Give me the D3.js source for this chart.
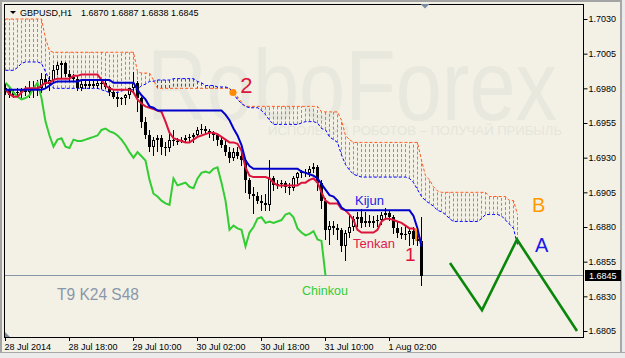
<!DOCTYPE html>
<html><head><meta charset="utf-8">
<script src="https://cdn.jsdelivr.net/npm/d3@7"></script>
<style>html,body{margin:0;padding:0;background:#f3f1e6;} svg{display:block;}</style>
</head><body><svg id="chart" width="625" height="358"></svg>
<script>
// ---------------- data ----------------
const symbolTitle = "GBPUSD,H1";
const titleQuote = "1.6870 1.6887 1.6838 1.6845";
const timeLabels = ["28 Jul 2014","28 Jul 18:00","29 Jul 10:00","30 Jul 02:00","30 Jul 18:00","31 Jul 10:00","1 Aug 02:00"];
const timeTickBars = [0,16,32,48,64,80,96];
const priceTicks = [1.6805,1.6830,1.6855,1.6880,1.6905,1.6930,1.6955,1.6980,1.7005,1.7030];
const currentPrice = 1.6845;
const indicatorLabel = "T9 K24 S48";

const open = [1.6980,1.6979,1.6975,1.6977,1.6977,1.6979,1.6977,1.6980,1.6979,1.6980,
1.6987,1.6983,1.6986,1.6993,1.6997,1.6998,1.6990,1.6988,1.6987,1.6980,
1.6983,1.6982,1.6983,1.6982,1.6984,1.6984,1.6981,1.6977,1.6974,1.6972,
1.6973,1.6975,1.6980,1.6984,1.6973,1.6956,1.6946,1.6938,1.6943,1.6944,
1.6938,1.6937,1.6943,1.6942,1.6942,1.6943,1.6944,1.6945,1.6946,1.6950,
1.6951,1.6949,1.6948,1.6946,1.6943,1.6939,1.6934,1.6930,1.6934,1.6931,
1.6928,1.6914,1.6904,1.6902,1.6899,1.6897,1.6896,1.6915,1.6910,1.6911,
1.6912,1.6909,1.6908,1.6915,1.6919,1.6920,1.6919,1.6922,1.6923,1.6912,
1.6899,1.6878,1.6881,1.6879,1.6878,1.6866,1.6876,1.6880,1.6886,1.6887,
1.6883,1.6884,1.6883,1.6884,1.6885,1.6889,1.6890,1.6887,1.6879,1.6876,
1.6874,1.6875,1.6877,1.6871,1.6870];
const high = [1.6984,1.6980,1.6979,1.6980,1.6980,1.6982,1.6985,1.6985,1.6986,1.6991,
1.6990,1.6989,1.6997,1.6999,1.7000,1.6999,1.6993,1.6990,1.6989,1.6986,
1.6985,1.6985,1.6985,1.6986,1.6986,1.6985,1.6982,1.6979,1.6977,1.6974,
1.6976,1.6980,1.6992,1.6985,1.6974,1.6959,1.6950,1.6945,1.6946,1.6946,
1.6941,1.6948,1.6950,1.6944,1.6945,1.6946,1.6947,1.6948,1.6952,1.6954,
1.6953,1.6951,1.6949,1.6947,1.6945,1.6943,1.6938,1.6937,1.6938,1.6935,
1.6930,1.6915,1.6909,1.6905,1.6903,1.6904,1.6928,1.6917,1.6914,1.6914,
1.6913,1.6912,1.6917,1.6920,1.6921,1.6922,1.6924,1.6926,1.6925,1.6914,
1.6901,1.6884,1.6884,1.6882,1.6879,1.6878,1.6889,1.6888,1.6891,1.6893,
1.6891,1.6889,1.6888,1.6889,1.6891,1.6894,1.6892,1.6889,1.6884,1.6880,
1.6881,1.6879,1.6880,1.6878,1.6887];
const low = [1.6976,1.6974,1.6974,1.6975,1.6974,1.6975,1.6974,1.6974,1.6975,1.6977,
1.6980,1.6979,1.6985,1.6990,1.6988,1.6989,1.6986,1.6985,1.6979,1.6979,
1.6980,1.6980,1.6981,1.6980,1.6980,1.6980,1.6975,1.6973,1.6967,1.6969,
1.6969,1.6973,1.6977,1.6964,1.6952,1.6944,1.6935,1.6932,1.6935,1.6933,
1.6932,1.6935,1.6939,1.6940,1.6941,1.6941,1.6941,1.6941,1.6945,1.6948,
1.6948,1.6945,1.6943,1.6939,1.6938,1.6932,1.6927,1.6928,1.6930,1.6925,
1.6905,1.6901,1.6890,1.6897,1.6892,1.6892,1.6892,1.6907,1.6908,1.6909,
1.6905,1.6904,1.6907,1.6912,1.6916,1.6917,1.6917,1.6920,1.6907,1.6894,
1.6871,1.6868,1.6875,1.6871,1.6863,1.6856,1.6873,1.6878,1.6881,1.6880,
1.6881,1.6881,1.6880,1.6881,1.6882,1.6886,1.6885,1.6876,1.6873,1.6872,
1.6871,1.6867,1.6868,1.6867,1.6838];
const close = [1.6979,1.6975,1.6977,1.6977,1.6979,1.6977,1.6980,1.6979,1.6980,1.6987,
1.6983,1.6986,1.6993,1.6997,1.6998,1.6990,1.6988,1.6987,1.6980,1.6983,
1.6982,1.6983,1.6982,1.6984,1.6984,1.6981,1.6977,1.6974,1.6972,1.6973,
1.6975,1.6980,1.6984,1.6973,1.6956,1.6946,1.6938,1.6943,1.6944,1.6938,
1.6937,1.6943,1.6942,1.6942,1.6943,1.6944,1.6945,1.6946,1.6950,1.6951,
1.6949,1.6948,1.6946,1.6943,1.6939,1.6934,1.6930,1.6934,1.6931,1.6928,
1.6914,1.6904,1.6902,1.6899,1.6897,1.6896,1.6915,1.6910,1.6911,1.6912,
1.6909,1.6908,1.6915,1.6919,1.6920,1.6919,1.6922,1.6923,1.6912,1.6899,
1.6878,1.6881,1.6879,1.6878,1.6866,1.6876,1.6880,1.6886,1.6887,1.6883,
1.6884,1.6883,1.6884,1.6885,1.6889,1.6890,1.6887,1.6879,1.6876,1.6874,
1.6875,1.6877,1.6871,1.6870,1.6845];

const tenkan = [1.6979,1.6976,1.6974,1.6974,1.6977,1.6980,1.6980,1.6980,1.6980,1.6982,
1.6984,1.6984,1.6986,1.6987,1.6987,1.6987,1.6987,1.6989,1.6989,1.6990,
1.6990,1.6990,1.6990,1.6990,1.6986,1.6982,1.6980,1.6979,1.6979,1.6979,
1.6979,1.6979,1.6977,1.6972,1.6969,1.6967,1.6966,1.6965,1.6964,1.6963,
1.6956,1.6948,1.6944,1.6943,1.6942,1.6941,1.6941,1.6943,1.6945,1.6946,
1.6947,1.6948,1.6948,1.6947,1.6945,1.6943,1.6941,1.6941,1.6940,1.6935,
1.6923,1.6917,1.6916,1.6916,1.6916,1.6916,1.6915,1.6912,1.6910,1.6910,
1.6910,1.6910,1.6910,1.6910,1.6912,1.6912,1.6914,1.6915,1.6912,1.6905,
1.6899,1.6897,1.6897,1.6897,1.6893,1.6892,1.6889,1.6885,1.6878,1.6876,
1.6876,1.6876,1.6876,1.6878,1.6884,1.6886,1.6886,1.6885,1.6884,1.6883,
1.6881,1.6879,1.6879,1.6876,1.6868];
const kijun = [1.6979,1.6979,1.6979,1.6979,1.6979,1.6979,1.6979,1.6979,1.6979,1.6979,
1.6980,1.6982,1.6984,1.6985,1.6985,1.6985,1.6985,1.6985,1.6985,1.6986,
1.6986,1.6986,1.6986,1.6986,1.6986,1.6986,1.6986,1.6984,1.6984,1.6984,
1.6984,1.6984,1.6984,1.6979,1.6975,1.6972,1.6967,1.6966,1.6964,1.6964,
1.6964,1.6964,1.6964,1.6964,1.6964,1.6964,1.6964,1.6964,1.6964,1.6964,
1.6964,1.6964,1.6964,1.6964,1.6964,1.6961,1.6957,1.6951,1.6946,1.6939,
1.6928,1.6924,1.6922,1.6922,1.6922,1.6922,1.6922,1.6922,1.6922,1.6922,
1.6922,1.6922,1.6922,1.6922,1.6920,1.6919,1.6918,1.6917,1.6915,1.6911,
1.6907,1.6903,1.6902,1.6899,1.6894,1.6892,1.6892,1.6892,1.6892,1.6892,
1.6892,1.6892,1.6892,1.6892,1.6892,1.6892,1.6892,1.6892,1.6892,1.6892,
1.6892,1.6892,1.6888,1.6879,1.6866];
const chinkou = [1.6984,1.6981,1.6977,1.6974,1.6972,1.6973,1.6975,1.6980,1.6984,1.6973,
1.6956,1.6946,1.6938,1.6943,1.6944,1.6938,1.6937,1.6943,1.6942,1.6942,
1.6943,1.6944,1.6945,1.6946,1.6950,1.6951,1.6949,1.6948,1.6946,1.6943,
1.6939,1.6934,1.6930,1.6934,1.6931,1.6928,1.6914,1.6904,1.6902,1.6899,
1.6897,1.6896,1.6915,1.6910,1.6911,1.6912,1.6909,1.6908,1.6915,1.6919,
1.6920,1.6919,1.6922,1.6923,1.6912,1.6899,1.6878,1.6881,1.6879,1.6878,
1.6866,1.6876,1.6880,1.6886,1.6887,1.6883,1.6884,1.6883,1.6884,1.6885,
1.6889,1.6890,1.6887,1.6879,1.6876,1.6874,1.6875,1.6877,1.6871,1.6870,
1.6845];
const senkouA = [1.6993,1.6993,1.6993,1.6995,1.6998,1.6999,1.6999,1.6999,1.6999,1.6998,
1.6992,1.6986,1.6980,1.6980,1.6980,1.6980,1.6980,1.6980,1.6980,1.6980,
1.6980,1.6980,1.6980,1.6980,1.6979,1.6978,1.6977,1.6977,1.6977,1.6978,
1.6979,1.6979,1.6979,1.6979,1.6982,1.6983,1.6985,1.6985,1.6986,1.6986,
1.6986,1.6986,1.6987,1.6987,1.6987,1.6987,1.6987,1.6987,1.6985,1.6984,
1.6982,1.6982,1.6982,1.6981,1.6981,1.6981,1.6980,1.6976,1.6972,1.6969,
1.6967,1.6966,1.6966,1.6966,1.6964,1.6961,1.6957,1.6954,1.6954,1.6954,
1.6954,1.6954,1.6954,1.6954,1.6955,1.6956,1.6956,1.6956,1.6955,1.6951,
1.6950,1.6945,1.6943,1.6941,1.6932,1.6925,1.6921,1.6918,1.6917,1.6916,
1.6916,1.6916,1.6916,1.6916,1.6916,1.6916,1.6916,1.6916,1.6916,1.6916,
1.6916,1.6915,1.6912,1.6907,1.6902,1.6899,1.6897,1.6895,1.6892,1.6891,
1.6889,1.6886,1.6884,1.6884,1.6884,1.6884,1.6884,1.6884,1.6884,1.6886,
1.6889,1.6889,1.6889,1.6889,1.6888,1.6885,1.6882,1.6879,1.6867];
const senkouB = [1.7030,1.7030,1.7030,1.7030,1.7030,1.7030,1.7030,1.7030,1.7030,1.7030,
1.7016,1.7007,1.7006,1.7006,1.7006,1.7006,1.7006,1.7006,1.7006,1.7006,
1.7006,1.7006,1.7006,1.7006,1.7006,1.7006,1.7006,1.7006,1.7006,1.7006,
1.7006,1.7006,1.7006,1.6992,1.6991,1.6991,1.6991,1.6986,1.6980,1.6980,
1.6980,1.6980,1.6980,1.6980,1.6980,1.6980,1.6980,1.6980,1.6980,1.6980,
1.6980,1.6980,1.6980,1.6980,1.6980,1.6980,1.6980,1.6977,1.6974,1.6970,
1.6967,1.6967,1.6967,1.6967,1.6967,1.6967,1.6967,1.6967,1.6967,1.6967,
1.6967,1.6967,1.6967,1.6967,1.6967,1.6967,1.6967,1.6967,1.6967,1.6963,
1.6963,1.6963,1.6963,1.6963,1.6957,1.6946,1.6943,1.6941,1.6941,1.6941,
1.6941,1.6941,1.6941,1.6941,1.6941,1.6941,1.6941,1.6941,1.6941,1.6941,
1.6941,1.6941,1.6941,1.6941,1.6928,1.6917,1.6914,1.6909,1.6906,1.6905,
1.6905,1.6905,1.6905,1.6905,1.6905,1.6905,1.6905,1.6905,1.6905,1.6905,
1.6905,1.6902,1.6902,1.6902,1.6902,1.6902,1.6899,1.6899,1.6889];
// forecast zigzag: [bar index, price]
const zigzagBars   = [111.25, 119.25, 128, 143];
const zigzagPrices = [1.6854, 1.6820, 1.6871, 1.6805];
// annotations
const annoText  = ["2","1","Kijun","Tenkan","Chinkou","B","A"];
const annoBar   = [58.8, 100, 87.5, 87, 74.25, 131.75, 132.5];
const annoPrice = [1.69766, 1.68555, 1.68959, 1.68648, 1.68310, 1.68908, 1.68620];
const crossBar2 = 57, crossPrice2 = 1.6977;
const marker1Bar = 102.5, marker1Hi = 1.6879, marker1Lo = 1.6870;
const shiftBar = 105;

// ---------------- drawing ----------------
const BG = "#f3f1e6";
const FONT = "'Liberation Sans', Arial, sans-serif";
const svg = d3.select("#chart");
const x = d3.scaleLinear().domain([0, 144.75]).range([5, 584]);
const y = d3.scaleLinear().domain([1.6805, 1.7030]).range([331, 19]);

svg.append("rect").attr("width",625).attr("height",358).attr("fill",BG);
// window frame
svg.append("rect").attr("x",0).attr("y",0).attr("width",2).attr("height",358).attr("fill","#a4a4a4");
svg.append("rect").attr("x",0).attr("y",0).attr("width",625).attr("height",2).attr("fill","#a4a4a4");
svg.append("rect").attr("x",620).attr("y",0).attr("width",2).attr("height",358).attr("fill","#a8a8a8");
svg.append("rect").attr("x",622).attr("y",0).attr("width",3).attr("height",358).attr("fill","#ebebeb");
svg.append("rect").attr("x",0).attr("y",352).attr("width",625).attr("height",1).attr("fill","#a8a8a8");
svg.append("rect").attr("x",0).attr("y",353).attr("width",625).attr("height",5).attr("fill","#ebebeb");

// watermark (drawn as background, inside plot area)
const wm = svg.append("g").attr("pointer-events","none");
wm.append("text").attr("x",147).attr("y",120).attr("font-family",FONT).attr("font-size",100)
  .attr("textLength",410).attr("lengthAdjust","spacingAndGlyphs").attr("fill","#e8e8de").text("RoboForex");
wm.append("text").attr("x",268).attr("y",135).attr("font-family",FONT).attr("font-size",13)
  .attr("textLength",294).attr("lengthAdjust","spacingAndGlyphs").attr("fill","#e5e5db")
  .text("ИСПОЛЬЗУЙ РОБОТОВ – ПОЛУЧАЙ ПРИБЫЛЬ");

svg.append("defs").append("clipPath").attr("id","clip").append("rect")
  .attr("x",5).attr("y",5).attr("width",578).attr("height",332);
const g = svg.append("g").attr("clip-path","url(#clip)");

// cloud hatch
const cloudIdx = d3.range(senkouA.length);
g.append("g").selectAll("line").data(cloudIdx).join("line")
  .attr("x1", i => Math.round(x(i)) + 0.5).attr("x2", i => Math.round(x(i)) + 0.5)
  .attr("y1", i => y(senkouA[i])).attr("y2", i => y(senkouB[i]))
  .attr("stroke", i => senkouA[i] > senkouB[i] ? "#3a46e0" : "#ff6a35")
  .attr("stroke-width", 1).attr("stroke-dasharray", "3,2");

const lineOf = (arr) => d3.line().x((d,i) => x(i) + 0.5).y(d => y(d))(arr);
g.append("path").attr("d", lineOf(senkouB)).attr("fill","none").attr("stroke","#ff5a1e")
  .attr("stroke-width",1).attr("stroke-dasharray","3,2");
g.append("path").attr("d", lineOf(senkouA)).attr("fill","none").attr("stroke","#0000ff")
  .attr("stroke-width",1).attr("stroke-dasharray","3,2");

// current price line
const py = Math.round(y(currentPrice)) - 0.5;
g.append("line").attr("x1",5).attr("x2",584).attr("y1",py).attr("y2",py)
  .attr("stroke","#8595a6").attr("stroke-width",1);

// candles
const cg = g.append("g");
open.forEach((o, i) => {
  const cx = Math.round(x(i));
  const c = close[i];
  const yh = Math.round(y(high[i])), yl = Math.round(y(low[i]));
  cg.append("rect").attr("x",cx).attr("y",yh).attr("width",1).attr("height",Math.max(1,yl-yh+1)).attr("fill","#000");
  const yTop = Math.round(y(Math.max(o,c))), yBot = Math.round(y(Math.min(o,c)));
  const h = yBot - yTop;
  if (c < o) {
    cg.append("rect").attr("x",cx-1).attr("y",yTop).attr("width",3).attr("height",Math.max(1,h)).attr("fill","#000");
  } else if (h >= 2) {
    cg.append("rect").attr("x",cx-0.5).attr("y",yTop+0.5).attr("width",2).attr("height",h-1)
      .attr("fill","#fff").attr("stroke","#000").attr("stroke-width",1);
  } else {
    cg.append("rect").attr("x",cx-1).attr("y",yTop).attr("width",3).attr("height",1).attr("fill","#000");
  }
});

// ichimoku lines
g.append("path").attr("d", lineOf(chinkou)).attr("fill","none").attr("stroke","#32cd32").attr("stroke-width",2);
g.append("path").attr("d", lineOf(tenkan)).attr("fill","none").attr("stroke","#dc143c").attr("stroke-width",2);
g.append("path").attr("d", lineOf(kijun)).attr("fill","none").attr("stroke","#0000cd").attr("stroke-width",2);

// markers
g.append("rect").attr("x", Math.round(x(marker1Bar))).attr("y", y(marker1Hi)).attr("width",2)
  .attr("height", y(marker1Lo) - y(marker1Hi)).attr("fill","#ff9a00");
g.append("circle").attr("cx", x(crossBar2)).attr("cy", y(crossPrice2)).attr("r",3.6).attr("fill","#ff8c00");

// zigzag forecast
g.append("path").attr("d", d3.line().x(d => x(d)).y((d,i) => y(zigzagPrices[i]))(zigzagBars))
  .attr("fill","none").attr("stroke","#0a870a").attr("stroke-width",2.6).attr("stroke-linejoin","miter");

// annotations
const annoColor = ["#dc143c","#dc143c","#2222e6","#e0204a","#33cc33","#ff9900","#1a1ae6"];
const annoSize  = [22, 19, 13, 13, 12.5, 20, 20];
annoText.forEach((t,i) => {
  svg.append("text").attr("x", x(annoBar[i])).attr("y", y(annoPrice[i]))
    .attr("font-family",FONT).attr("font-size",annoSize[i]).attr("fill",annoColor[i]).text(t);
});
svg.append("text").attr("x", x(13)).attr("y", y(1.68273)).attr("font-family",FONT).attr("font-size",17)
  .attr("textLength",82).attr("lengthAdjust","spacingAndGlyphs").attr("fill","#8a97aa").text(indicatorLabel);

// plot frame
svg.append("rect").attr("x",4.5).attr("y",4.5).attr("width",579).attr("height",333)
  .attr("fill","none").attr("stroke","#000").attr("stroke-width",1);

// axes
const yAxis = d3.axisRight(y).tickValues(priceTicks).tickFormat(d3.format(".4f"))
  .tickSize(4).tickSizeOuter(0).tickPadding(1);
const ya = svg.append("g").attr("transform","translate(583.5,0)").call(yAxis);
ya.select(".domain").remove();
ya.selectAll("text").attr("font-family",FONT).attr("font-size",9).attr("fill","#000");
ya.selectAll("line").attr("stroke","#000");

const xAxis = d3.axisBottom(x).tickValues(timeTickBars).tickFormat((d,i) => timeLabels[i])
  .tickSize(4).tickSizeOuter(0);
const xa = svg.append("g").attr("transform","translate(0,337)").call(xAxis);
xa.select(".domain").remove();
xa.selectAll("text").attr("font-family",FONT).attr("font-size",9).attr("fill","#000")
  .attr("text-anchor","start").attr("x",-1);
xa.selectAll("line").attr("stroke","#000");

// current price tag
const cy = y(currentPrice);
svg.append("rect").attr("x",585).attr("y",Math.round(cy)-6).attr("width",36).attr("height",11).attr("fill","#000");
svg.append("text").attr("x",589).attr("y",cy).attr("dy","0.34em").attr("font-family",FONT).attr("font-size",9)
  .attr("fill","#fff").text(d3.format(".4f")(currentPrice));

// title
svg.append("path").attr("d","M10,11L16,11L13,14Z").attr("fill","#000");
svg.append("text").attr("x",20).attr("y",16).attr("font-family",FONT).attr("font-size",9).attr("fill","#000").text(symbolTitle);
svg.append("text").attr("x",81).attr("y",16).attr("font-family",FONT).attr("font-size",9).attr("fill","#000").text(titleQuote);

// shift markers
const sx = x(shiftBar);
svg.append("path").attr("d",`M${sx-4.5},4L${sx+4.5},4L${sx},8.5Z`).attr("fill","#7a8aa0");
svg.append("path").attr("d","M5,332L5,337L10,337Z").attr("fill","#7a8aa0");
</script>
</body></html>
